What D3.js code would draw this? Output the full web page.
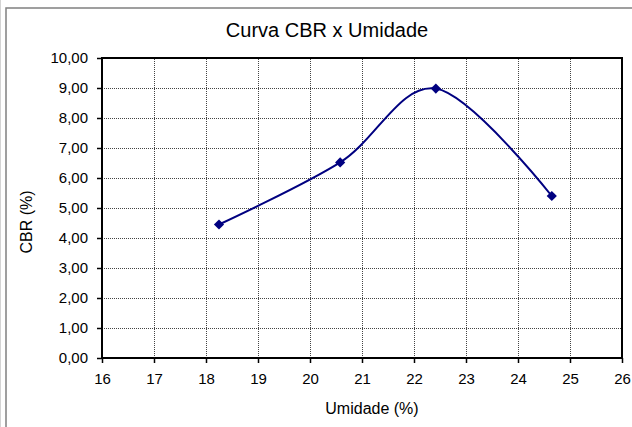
<!DOCTYPE html>
<html>
<head>
<meta charset="utf-8">
<script src="https://cdn.jsdelivr.net/npm/d3@7"></script>
<style>
  html, body { margin: 0; padding: 0; background: #fff; }
  svg { display: block; font-family: "Liberation Sans", Arial, sans-serif; }
</style>
</head>
<body>
<svg id="chart" width="632" height="427"></svg>
<script>
// Curva CBR x Umidade
const umidade = [18.25, 20.58, 22.42, 24.65];
const cbr = [4.45, 6.52, 8.98, 5.40];
const xTicks = [16, 17, 18, 19, 20, 21, 22, 23, 24, 25, 26];
const yTicks = [0, 1, 2, 3, 4, 5, 6, 7, 8, 9, 10];

const titulo = 'Curva CBR x Umidade';
const tituloX = 'Umidade (%)';
const tituloY = 'CBR (%)';

const width = 632;
const height = 427;
const plot = { left: 102, right: 622, top: 58, bottom: 358 };

const svg = d3.select('#chart');

// outer chart frame (runs past the right/bottom edge like the picture)
svg.append('line')
  .attr('x1', 0.5).attr('x2', 0.5).attr('y1', 0).attr('y2', height)
  .attr('stroke', '#d4d4d4').attr('stroke-width', 1);
svg.append('rect')
  .attr('x', 6).attr('y', 8)
  .attr('width', 700).attr('height', 500)
  .attr('fill', '#fff')
  .attr('stroke', '#808080')
  .attr('stroke-width', 1.5);

const x = d3.scaleLinear().domain([16, 26]).range([plot.left, plot.right]);
const y = d3.scaleLinear().domain([0, 10]).range([plot.bottom, plot.top]);

const br = d3.formatLocale({ decimal: ',', thousands: '.', grouping: [3], currency: ['R$', ''] });
const fmt = br.format('.2f');

// gridlines
const grid = svg.append('g').attr('class', 'grid');
grid.append('g')
  .attr('transform', `translate(0,${plot.bottom})`)
  .call(d3.axisBottom(x).tickValues(xTicks).tickSize(-(plot.bottom - plot.top)).tickFormat(''))
  .call(g => g.select('.domain').remove());
grid.append('g')
  .attr('transform', `translate(${plot.left},0)`)
  .call(d3.axisLeft(y).tickValues(yTicks).tickSize(-(plot.right - plot.left)).tickFormat(''))
  .call(g => g.select('.domain').remove());
grid.selectAll('line')
  .attr('stroke', '#444')
  .attr('stroke-width', 1)
  .attr('stroke-dasharray', '1,1');

// plot box
svg.append('rect')
  .attr('x', plot.left).attr('y', plot.top)
  .attr('width', plot.right - plot.left)
  .attr('height', plot.bottom - plot.top)
  .attr('fill', 'none')
  .attr('stroke', '#000')
  .attr('stroke-width', 2);

// axes
const xAxis = svg.append('g')
  .attr('transform', `translate(0,${plot.bottom})`)
  .call(d3.axisBottom(x).tickValues(xTicks).tickSize(5).tickPadding(10).tickFormat(d3.format('d')));
const yAxis = svg.append('g')
  .attr('transform', `translate(${plot.left},0)`)
  .call(d3.axisLeft(y).tickValues(yTicks).tickSize(5).tickPadding(9).tickFormat(fmt));

[xAxis, yAxis].forEach(a => {
  a.select('.domain').remove();
  a.selectAll('line').attr('stroke', '#000').attr('stroke-width', 1.5);
  a.selectAll('text')
    .attr('fill', '#000')
    .style('font-family', '"Liberation Sans", Arial, sans-serif')
    .style('font-size', '15px');
});

// curve
const line = d3.line()
  .x((d, i) => x(umidade[i]))
  .y(d => y(d))
  .curve(d3.curveCardinal.tension(0));

svg.append('path')
  .datum(cbr)
  .attr('d', line)
  .attr('fill', 'none')
  .attr('stroke', '#000080')
  .attr('stroke-width', 2);

svg.append('g')
  .selectAll('path')
  .data(cbr)
  .join('path')
  .attr('d', d3.symbol(d3.symbolSquare, 52))
  .attr('transform', (d, i) => `translate(${x(umidade[i])},${y(d)}) rotate(45)`)
  .attr('fill', '#000080');

// titles
svg.append('text')
  .attr('x', 327).attr('y', 37)
  .attr('text-anchor', 'middle')
  .style('font-size', '20px')
  .text(titulo);

svg.append('text')
  .attr('x', (plot.left + plot.right) / 2 + 10).attr('y', 414)
  .attr('text-anchor', 'middle')
  .style('font-size', '16px')
  .text(tituloX);

svg.append('text')
  .attr('transform', `translate(32,222) rotate(-90)`)
  .attr('text-anchor', 'middle')
  .style('font-size', '16px')
  .text(tituloY);
</script>
</body>
</html>
